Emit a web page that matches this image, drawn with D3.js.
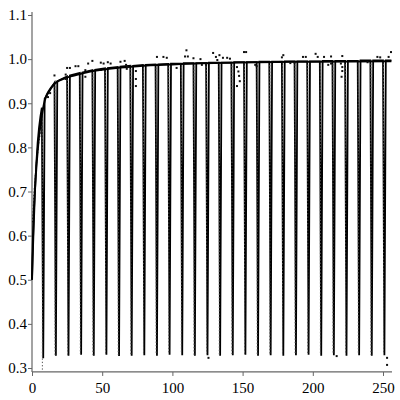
<!DOCTYPE html>
<html><head><meta charset="utf-8">
<script src="https://cdn.jsdelivr.net/npm/d3@7"></script>
<style>body{margin:0;background:#fff}</style></head>
<body>
<svg id="c" width="400" height="400"></svg>
<script>
// ---- data ----
const xTicks = [0, 50, 100, 150, 200, 250];
const xMinor = [10,20,30,40,60,70,80,90,110,120,130,140,160,170,180,190,210,220,230,240];
const yTicks = [0.3, 0.4, 0.5, 0.6, 0.7, 0.8, 0.9, 1.0, 1.1];
const yTickLabels = ["0.3","0.4","0.5","0.6","0.7","0.8","0.9","1.0","1.1"];
const yMinor = [0.35,0.45,0.55,0.65,0.75,0.85,0.95,1.05];

// smooth model curve
const curveX = [0, 0.3, 1, 2, 3, 4, 5, 6, 7, 8, 9, 10, 12, 15, 18, 22, 30, 40, 50, 60, 75, 100, 130, 160, 200, 256];
const curveY = [0.5, 0.55, 0.63, 0.70, 0.75, 0.79, 0.825, 0.85, 0.872, 0.89, 0.905, 0.915, 0.928, 0.941, 0.949, 0.955, 0.963, 0.971, 0.976, 0.98, 0.984, 0.988, 0.991, 0.993, 0.994, 0.995];

// observed line: start segment, then periodic drops
const lineStartX = [0, 1, 2, 3, 4, 5, 6, 7];
const lineStartY = [0.5, 0.6, 0.69, 0.76, 0.81, 0.845, 0.87, 0.89];
const dropX = [8,17,26,35,44,53,62,71,80,89,98,107,116,125,134,143,152,161,170,179,188,197,206,215,224,233,242,251];
const dropLeft  = [0.89,0.946,0.961,0.969,0.975,0.979,0.982,0.985,0.987,0.988,0.989,0.99,0.991,0.991,0.992,0.992,0.993,0.993,0.994,0.994,0.995,0.995,0.995,0.996,0.996,0.996,0.997,0.997];
const dropRight = [0.91,0.95,0.963,0.97,0.976,0.98,0.983,0.985,0.987,0.988,0.99,0.991,0.991,0.992,0.992,0.993,0.993,0.994,0.994,0.995,0.995,0.995,0.996,0.996,0.996,0.997,0.997,0.997];
const dropBottom = [0.322,0.328,0.328,0.330,0.328,0.330,0.327,0.328,0.329,0.328,0.330,0.329,0.328,0.329,0.328,0.329,0.330,0.328,0.329,0.328,0.329,0.330,0.328,0.329,0.328,0.329,0.328,0.329];
const lineEndX = 256, lineEndY = 0.997;

// dotted (point-sampled) series
const dotStartX = [0.4, 1.5, 3, 5, 7];
const dotStartY = [0.63, 0.7, 0.76, 0.815, 0.85];
const dotDropBottom = [0.295,0.33,0.33,0.332,0.33,0.332,0.33,0.33,0.332,0.33,0.332,0.332,0.33,0.332,0.33,0.332,0.332,0.33,0.332,0.33,0.332,0.332,0.33,0.332,0.33,0.332,0.33,0.332];
const dotX = [11.4,12.9,16,24,24,25,27,31,33,38,38,40,43,49,51,54,56,63,66,67,68,67.5,74,74,74,89,93.6,96,103,109,110,111,115,120,121,124,129,131,132,133.5,136,139,141,146,147,147.5,148,146,151,152.5,159,160,178,179,184,187,193,195,202,203.5,208,211,213,213,220,220.5,221,221,221,239,246,248,254,255.7,125.7,217,252.9,252.9];
const dotY = [0.914,0.923,0.963,0.955,0.965,0.98,0.98,0.984,0.984,0.96,0.975,0.99,0.996,0.992,0.99,0.993,0.99,0.994,0.996,0.987,0.982,0.978,0.973,0.955,0.939,1.005,1.005,1.003,0.98,1.006,1.02,1.006,1.002,1.0,0.987,0.987,1.014,1.005,0.998,1.009,1.003,1.003,1.001,0.982,0.972,0.962,0.95,0.939,1.016,1.016,0.987,0.984,1.004,1.009,0.991,0.992,1.005,1.005,1.012,1.005,1.005,0.987,1.006,0.99,0.99,0.96,0.973,0.982,1.007,0.993,1.005,1.004,1.005,1.016,0.323,0.327,0.323,0.307];

// ---- drawing ----
const svg = d3.select("#c");
const x = d3.scaleLinear().domain([0, 250]).range([32, 383]);
const y = d3.scaleLinear().domain([0.3, 1.1]).range([368, 15]);
const font = "Liberation Serif";
const axisColor = "#666";

// axes
const xAxisY = y(0.291);
const gx = svg.append("g").attr("transform", `translate(0,${xAxisY})`);
gx.call(d3.axisBottom(x).tickValues(xMinor).tickSize(2.5).tickFormat(""));
gx.call(d3.axisBottom(x).tickValues(xTicks).tickSize(4).tickFormat(d3.format("d")));
gx.attr("font-family", null).attr("font-size", null);
gx.selectAll(".domain").remove();
gx.selectAll("line").attr("stroke", axisColor);
gx.selectAll("text").attr("fill", "#000").attr("dy", "0.95em").attr("font-family", font).attr("font-size", 15);
gx.append("line").attr("x1", x(0)).attr("x2", x(256.4)).attr("stroke", axisColor).attr("stroke-width", 1.2);

const gy = svg.append("g").attr("transform", `translate(${x(0)},0)`);
gy.call(d3.axisLeft(y).tickValues(yMinor).tickSize(2.5).tickFormat(""));
gy.call(d3.axisLeft(y).tickValues(yTicks).tickSize(4).tickFormat((d, i) => yTickLabels[i]));
gy.attr("font-family", null).attr("font-size", null);
gy.selectAll(".domain").remove();
gy.selectAll("line").attr("stroke", axisColor);
gy.selectAll("text").attr("fill", "#000").attr("x", -5).attr("font-family", font).attr("font-size", 15);
gy.append("line").attr("y1", y(1.107)).attr("y2", xAxisY).attr("stroke", axisColor).attr("stroke-width", 1.2);

// observed line
const linePts = lineStartX.map((d, i) => [d, lineStartY[i]]);
dropX.forEach((d, i) => {
  if (i > 0) linePts.push([d - 1, dropLeft[i]]);
  linePts.push([d, dropBottom[i]]);
  linePts.push([d + 1, dropRight[i]]);
});
linePts.push([lineEndX, lineEndY]);
const lineGen = d3.line().x(d => x(d[0])).y(d => y(d[1]));
svg.append("path").attr("d", lineGen(linePts)).attr("fill", "none").attr("stroke", "#000").attr("stroke-width", 1.8).attr("stroke-linejoin", "miter");

// dotted drop traces
const dotG = svg.append("g");
svg.append("path").attr("d", lineGen(dotStartX.map((d, i) => [d, dotStartY[i]])))
  .attr("fill", "none").attr("stroke", "#333").attr("stroke-width", 1.2).attr("stroke-dasharray", "1.3,2");
dropX.forEach((d, i) => {
  dotG.append("path").attr("d", lineGen([[d - 0.6, dropLeft[i]], [d - 0.6, dotDropBottom[i]]]))
    .attr("fill", "none").attr("stroke", "#555").attr("stroke-width", 1).attr("stroke-dasharray", "1.3,2");
});

// model curve
svg.append("path").attr("d", d3.line().curve(d3.curveMonotoneX).x(d => x(d[0])).y(d => y(d[1]))(curveX.map((d, i) => [d, curveY[i]])))
  .attr("fill", "none").attr("stroke", "#000").attr("stroke-width", 2);

// scattered points
svg.append("g").selectAll("rect").data(dotX.map((d, i) => [d, dotY[i]])).join("rect")
  .attr("x", d => x(d[0]) - 1).attr("y", d => y(d[1]) - 1).attr("width", 2).attr("height", 2).attr("fill", "#111");
</script>
</body></html>
